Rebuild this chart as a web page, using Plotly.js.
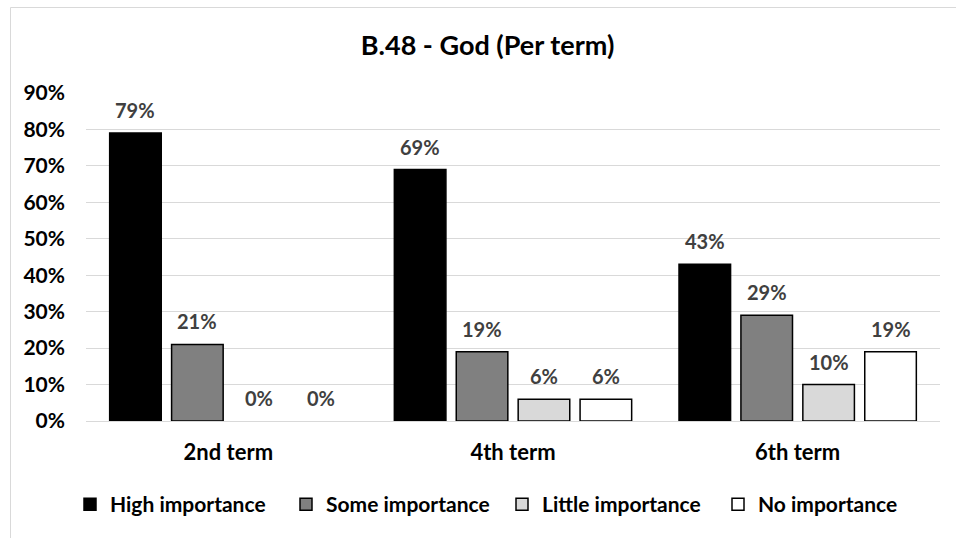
<!DOCTYPE html>
<html>
<head>
<meta charset="utf-8">
<script src="https://cdn.plot.ly/plotly-3.0.1.min.js"></script>
<style>
html,body{margin:0;padding:0;background:#fff;}
#chart{width:956px;height:538px;}
</style>
</head>
<body>
<div id="chart"></div>
<script>
var categories = ["2nd term", "4th term", "6th term"];
var seriesNames = ["High importance", "Some importance", "Little importance", "No importance"];
var highImportance = [0.79, 0.69, 0.43];
var someImportance = [0.21, 0.19, 0.29];
var littleImportance = [0.00, 0.06, 0.10];
var noImportance = [0.00, 0.06, 0.19];
var yTickValues = [0, 0.1, 0.2, 0.3, 0.4, 0.5, 0.6, 0.7, 0.8, 0.9];

var FONT = 'Lato, "Open Sans", sans-serif';
var fills = ["#000000", "#808080", "#d9d9d9", "#ffffff"];
var values = [highImportance, someImportance, littleImportance, noImportance];
var BARGAP = 0.13, GROUPGAP = 0.167;

var traces = values.map(function (v, i) {
  return {
    type: "bar",
    name: seriesNames[i],
    x: categories,
    // zero-height bars are not drawn in the original (only their labels)
    y: v.map(function (val) { return val === 0 ? null : val; }),
    marker: {color: fills[i], line: {color: "#000000", width: 1.5}},
    hoverinfo: "skip"
  };
});

// data labels placed at each bar's own position on the category/value axes
var annotations = [];
values.forEach(function (v, i) {
  var slot = (1 - BARGAP) / values.length;
  v.forEach(function (val, c) {
    annotations.push({
      xref: "x", yref: "y",
      x: c + (i - (values.length - 1) / 2) * slot,
      y: val,
      text: "<b>" + Math.round(val * 100) + "%</b>",
      showarrow: false,
      yanchor: "middle", yshift: 23,
      font: {family: FONT, size: 20, color: "#404040"}
    });
  });
});

var ml = 86, mr = 16, mt = 93, mb = 117;
var pw = 956 - ml - mr, ph = 538 - mt - mb;

var layout = {
  width: 956, height: 538,
  margin: {l: ml, r: mr, t: mt, b: mb, pad: 0, autoexpand: false},
  paper_bgcolor: "#ffffff", plot_bgcolor: "#ffffff",
  font: {family: FONT, color: "#000000"},
  title: {text: "<b>B.48 - God (Per term)</b>", font: {family: FONT, size: 27, color: "#000000"}, x: 0.51, xanchor: "center", y: 0.915, yanchor: "middle"},
  barmode: "group",
  bargap: BARGAP,
  bargroupgap: GROUPGAP,
  xaxis: {
    type: "category",
    showgrid: false, showline: true, linecolor: "#d9d9d9", linewidth: 1,
    ticks: "", tickfont: {family: FONT, size: 22, color: "#000000", weight: "bold"},
    ticklabelstandoff: 12
  },
  yaxis: {
    range: [0, 0.9], tickvals: yTickValues, tickformat: ".0%",
    showgrid: true, gridcolor: "#d9d9d9", gridwidth: 1,
    zeroline: false, showline: false, ticks: "",
    tickfont: {family: FONT, size: 21, color: "#000000", weight: "bold"},
    ticklabelstandoff: 20
  },
  annotations: annotations,
  showlegend: true,
  legend: {
    orientation: "h", x: (70 - ml) / pw, xanchor: "left", y: -0.255, yanchor: "middle",
    font: {family: FONT, size: 21, color: "#000000", weight: "bold"},
    traceorder: "normal", itemwidth: 30, entrywidth: 171
  },
  shapes: [{
    type: "rect", xref: "paper", yref: "paper",
    x0: (10.5 - ml) / pw, x1: 1.2, y0: -1, y1: (538 - mb - 7.5) / ph,
    line: {color: "#d9d9d9", width: 1}, layer: "below"
  }]
};

Plotly.newPlot("chart", traces, layout, {displayModeBar: false, staticPlot: true});
</script>
</body>
</html>
